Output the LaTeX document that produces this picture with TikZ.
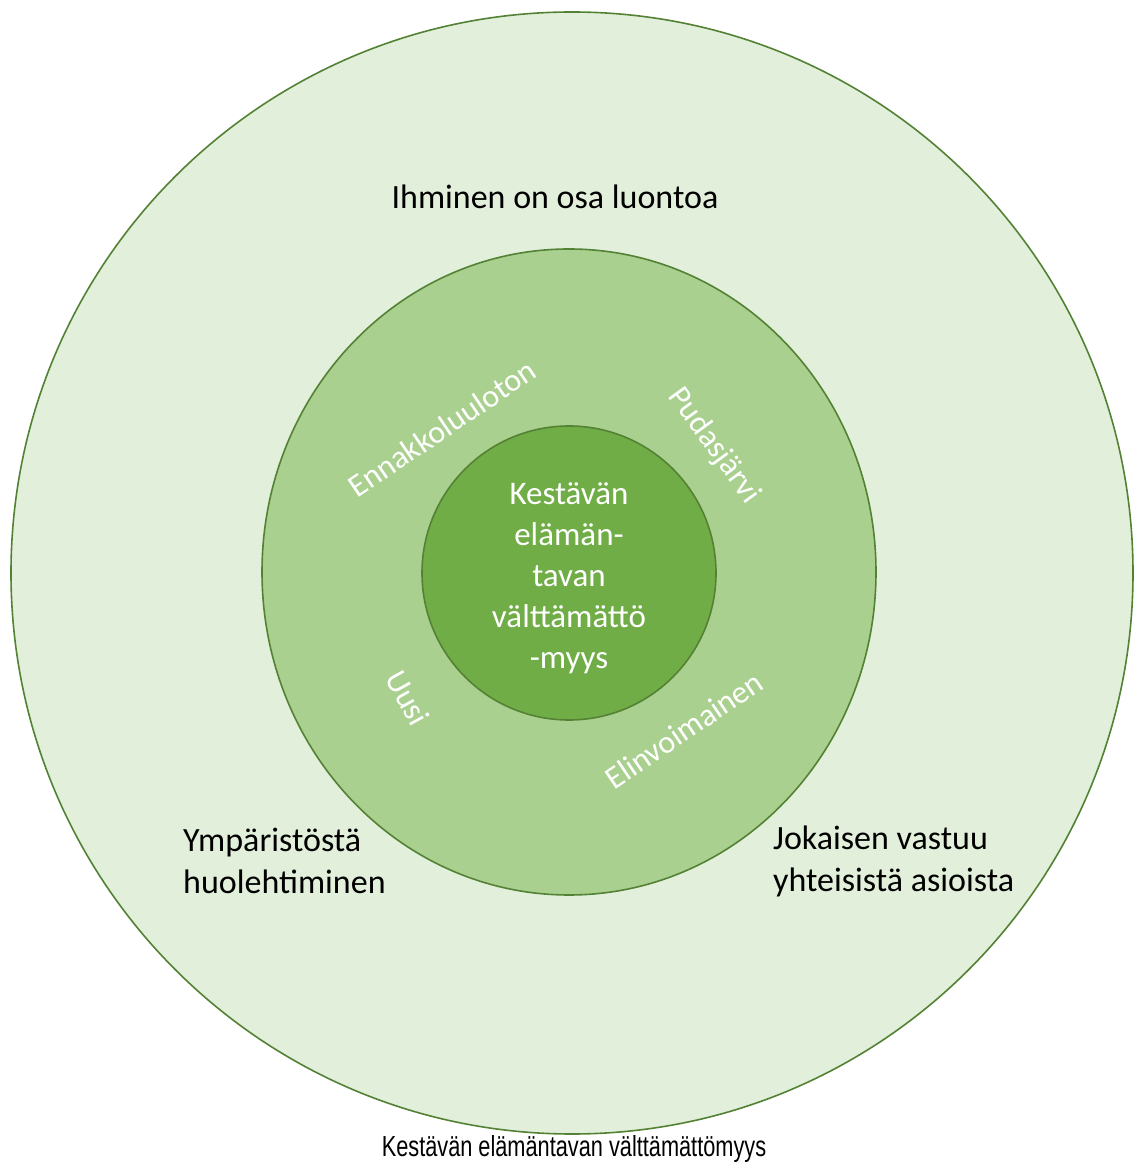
\documentclass[tikz,border=0pt]{standalone}
\usepackage{fontspec}
\setmainfont{Carlito}
\newfontfamily\capfont[FakeStretch=0.75]{Liberation Sans}
\definecolor{ringline}{RGB}{84,130,53}
\definecolor{outerfill}{RGB}{226,239,218}
\definecolor{midfill}{RGB}{169,208,142}
\definecolor{corefill}{RGB}{112,173,71}

\begin{document}
\begin{tikzpicture}[x=1pt,y=1pt,
    ring/.style={draw=ringline,line width=1.6pt},
    blacklabel/.style={inner sep=0pt,align=left,font=\fontsize{34}{42}\selectfont},
    whitelabel/.style={inner sep=0pt,text=white,font=\fontsize{32}{40}\selectfont}]
        \useasboundingbox (0,0) rectangle (1137,1171);
        \fill[white] (0,0) rectangle (1137,1171);
        \filldraw[ring,fill=outerfill] (572,598) circle (561pt);
        \filldraw[ring,fill=midfill] (569,599) ellipse (307pt and 323pt);
        \filldraw[ring,fill=corefill] (569,598) circle (147pt);
        \node[blacklabel] (nature) at (555,974) {Ihminen on osa luontoa};
        \node[blacklabel,anchor=west] (care) at (183,310) {Ympäristöstä\\huolehtiminen};
        \node[blacklabel,anchor=west] (duty) at (773,310) {Jokaisen vastuu\\yhteisistä asioista};
        \node[whitelabel] (open) at (442,743) [rotate=34] {Ennakkoluuloton};
        \node[whitelabel] (town) at (714,725) [rotate=-54] {Pudasjärvi};
        \node[whitelabel] (new) at (408,473) [rotate=-61] {Uusi};
        \node[whitelabel] (vital) at (684,441) [rotate=34] {Elinvoimainen};
        \node[whitelabel,align=center,font=\fontsize{33}{41}\selectfont] (core) at (569,593)
          {Kestävän\\elämän-\\tavan\\välttämättö\\-myys};
        \node[font=\capfont\fontsize{29}{33}\selectfont] (caption) at (574,22)
          {Kestävän elämäntavan välttämättömyys};
      \end{tikzpicture}
\end{document}
